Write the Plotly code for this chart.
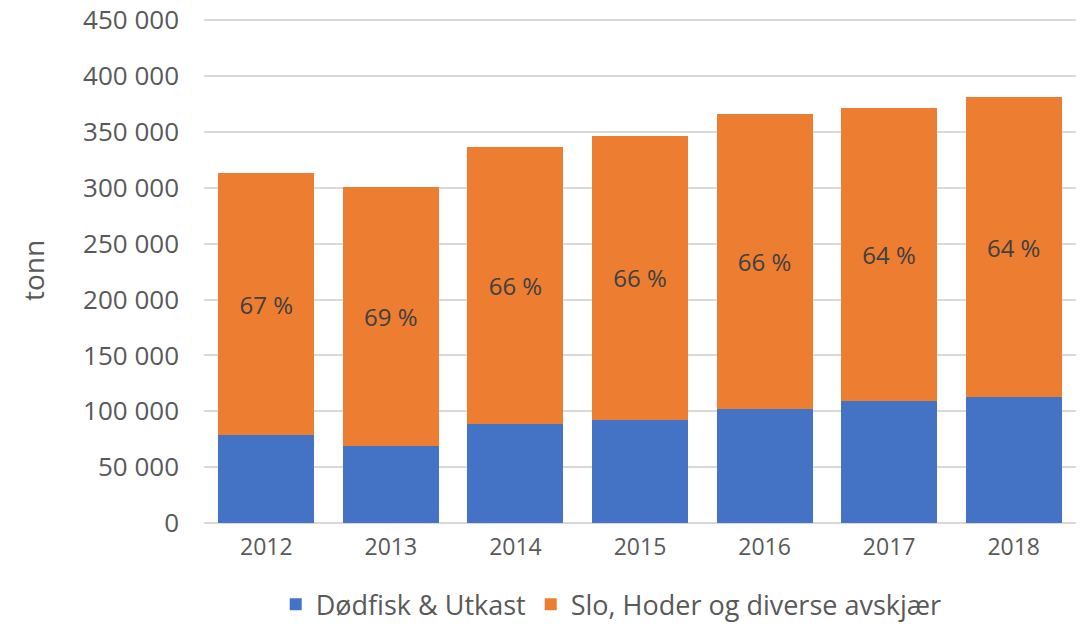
import plotly.graph_objects as go

years = ["2012", "2013", "2014", "2015", "2016", "2017", "2018"]
dodfisk = [78800, 69200, 88700, 92200, 101900, 109000, 112600]
slo = [234200, 231300, 247700, 254300, 263900, 262500, 268800]
pct_labels = ["67 %", "69 %", "66 %", "66 %", "66 %", "64 %", "64 %"]
y_ticks = [0, 50000, 100000, 150000, 200000, 250000, 300000, 350000, 400000, 450000]
y_tick_labels = ["0", "50 000", "100 000", "150 000", "200 000", "250 000",
                 "300 000", "350 000", "400 000", "450 000"]

FONT = "Open Sans"
GREY = "#595959"

fig = go.Figure()
fig.add_trace(go.Bar(
    x=years, y=dodfisk, name="Dødfisk & Utkast",
    marker=dict(color="#4472C4", line=dict(width=0)),
))
fig.add_trace(go.Bar(
    x=years, y=slo, name="Slo, Hoder og diverse avskjær",
    marker=dict(color="#ED7D31", line=dict(width=0)),
    text=pct_labels, textposition="inside", insidetextanchor="middle",
    textfont=dict(family=FONT, size=24, color="#404040"),
    textangle=0,
))

fig.update_layout(
    barmode="stack",
    bargap=0.23,
    width=1082, height=624,
    margin=dict(l=204, r=6, t=18, b=101, autoexpand=False),
    paper_bgcolor="white",
    plot_bgcolor="white",
    font=dict(family=FONT, color=GREY),
    uniformtext=dict(mode="show", minsize=10),
    legend=dict(
        orientation="h",
        x=0.467, xanchor="center",
        y=-0.162, yanchor="middle",
        font=dict(family=FONT, size=27, color=GREY),
        itemwidth=30,
        traceorder="normal",
    ),
    xaxis=dict(
        type="category",
        automargin=False,
        showgrid=False,
        ticks="",
        tickfont=dict(family=FONT, size=23, color=GREY),
        ticklabelstandoff=8,
        showline=False,
    ),
    yaxis=dict(
        automargin=False,
        range=[0, 452000],
        tickvals=y_ticks,
        ticktext=y_tick_labels,
        ticklabeloverflow="allow",
        tickfont=dict(family=FONT, size=26, color=GREY),
        showgrid=True,
        gridcolor="#D9D9D9",
        gridwidth=1.5,
        zeroline=True,
        zerolinecolor="#D9D9D9",
        zerolinewidth=1.5,
        ticks="",
        ticklabelstandoff=24,
        title=dict(text="tonn", font=dict(family=FONT, size=28, color=GREY), standoff=30),
    ),
)

fig.write_html("out.html", config={"displayModeBar": False},
               post_script="document.body.style.margin='0px';")
